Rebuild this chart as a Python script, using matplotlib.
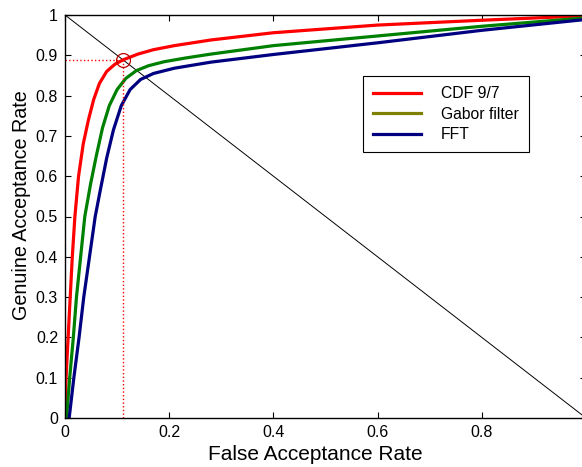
import numpy as np
import matplotlib
matplotlib.use("Agg")
import matplotlib.pyplot as plt
from matplotlib.lines import Line2D
from matplotlib.ticker import FuncFormatter

plt.rcParams['font.family'] = ['Liberation Sans', 'DejaVu Sans']

# ROC curves: false acceptance rate vs genuine acceptance rate
cdf_far = [0, 0.002, 0.006, 0.010, 0.014, 0.019, 0.026, 0.035, 0.045, 0.055, 0.066,
           0.080, 0.096, 0.112, 0.14, 0.17, 0.21, 0.28, 0.4, 0.6, 0.8, 1.0]
cdf_gar = [0, 0.1, 0.2, 0.3, 0.4, 0.5, 0.6, 0.68, 0.74, 0.79, 0.83,
           0.860, 0.878, 0.889, 0.903, 0.914, 0.924, 0.938, 0.956, 0.975, 0.987, 0.998]

gabor_far = [0.003, 0.009, 0.016, 0.022, 0.030, 0.038, 0.049, 0.060, 0.072, 0.085,
             0.100, 0.117, 0.137, 0.16, 0.19, 0.23, 0.28, 0.4, 0.6, 0.8, 1.0]
gabor_gar = [0, 0.1, 0.2, 0.3, 0.4, 0.5, 0.58, 0.65, 0.72, 0.775,
             0.815, 0.843, 0.862, 0.874, 0.884, 0.893, 0.903, 0.924, 0.948, 0.972, 0.993]

fft_far = [0.008, 0.017, 0.027, 0.036, 0.047, 0.058, 0.068, 0.080, 0.093, 0.108,
           0.125, 0.145, 0.17, 0.21, 0.28, 0.4, 0.6, 0.8, 1.0]
fft_gar = [0, 0.1, 0.2, 0.3, 0.4, 0.5, 0.567, 0.645, 0.715, 0.775,
           0.815, 0.840, 0.855, 0.868, 0.883, 0.902, 0.931, 0.962, 0.989]

# operating point marked on the CDF 9/7 curve
op_far = 0.112
op_gar = 0.888

fig = plt.figure(figsize=(5.82, 4.67), dpi=100)
ax = fig.add_axes([65 / 582, 49 / 467, 521 / 582, 403 / 467])

# equal error line
ax.plot([0, 1], [1, 0], color='black', linewidth=0.7)

ax.plot(cdf_far, cdf_gar, color='#ff0000', linewidth=2.3, solid_joinstyle='round')
ax.plot(gabor_far, gabor_gar, color='#008000', linewidth=2.3, solid_joinstyle='round')
ax.plot(fft_far, fft_gar, color='#000080', linewidth=2.3, solid_joinstyle='round')

ax.plot([0, op_far], [op_gar, op_gar], color='#ff0000', linestyle=':', linewidth=1)
ax.plot([op_far, op_far], [0, op_gar], color='#ff0000', linestyle=':', linewidth=1)
ax.plot([op_far], [op_gar], marker='o', markersize=10, markerfacecolor='none',
        markeredgecolor='#c00000', markeredgewidth=0.9)

ax.set_xlim(0, 1)
ax.set_ylim(0, 1)
ax.set_xticks([0, 0.2, 0.4, 0.6, 0.8])
ax.set_yticks(np.arange(0, 1.01, 0.1))
fmt = FuncFormatter(lambda v, p: '%g' % round(v, 2))
ax.xaxis.set_major_formatter(fmt)
ax.yaxis.set_major_formatter(fmt)
ax.tick_params(direction='in', length=4, width=0.8, top=True, right=True,
               labelsize=11.5, pad=5)
for s in ax.spines.values():
    s.set_linewidth(1)

ax.set_xlabel('False Acceptance Rate', fontsize=15)
ax.set_ylabel('Genuine Acceptance Rate', fontsize=14.2)
ax.xaxis.set_label_coords(0.48, -0.068)
ax.yaxis.set_label_coords(-0.066, 0.528)

# legend lines use their own colours
handles = [Line2D([], [], color='#ff0000', linewidth=2.3),
           Line2D([], [], color='#808000', linewidth=2.3),
           Line2D([], [], color='#000080', linewidth=2.3)]
leg = ax.legend(handles, ['CDF 9/7', 'Gabor filter', 'FFT'],
                loc='upper left', bbox_to_anchor=(363 / 582, 1 - 76 / 467),
                bbox_transform=fig.transFigure, fontsize=11.3,
                fancybox=False, framealpha=1, edgecolor='black',
                borderpad=0.65, labelspacing=0.35, handlelength=3.05,
                handletextpad=1.25, borderaxespad=0)
leg.get_frame().set_linewidth(0.8)

fig.savefig('out.png', dpi=100)
